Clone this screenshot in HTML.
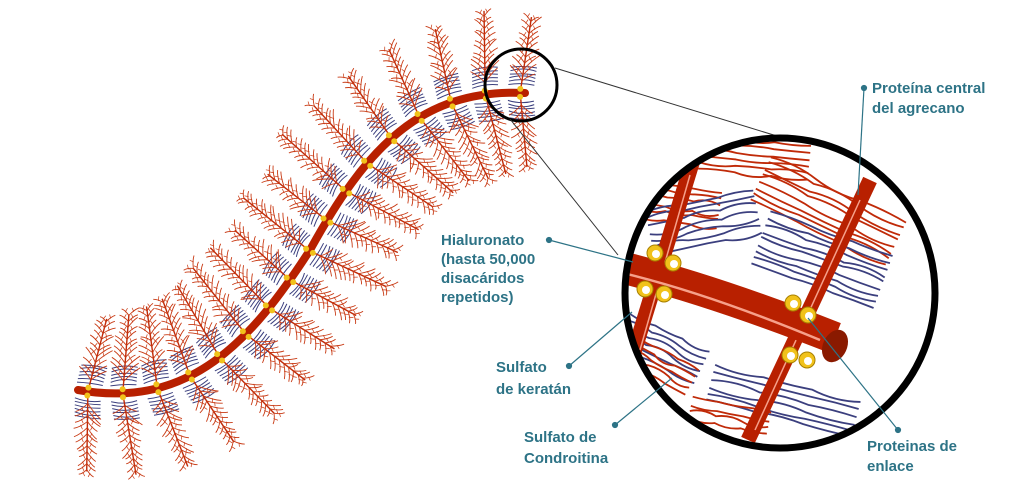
<!DOCTYPE html>
<html><head><meta charset="utf-8"><style>
html,body{margin:0;padding:0;background:#fff;width:1024px;height:493px;overflow:hidden}
svg{display:block}
text{font-family:"Liberation Sans",sans-serif;font-weight:bold;font-size:15px;fill:#2d7386}
</style></head><body>
<svg id="s" width="1024" height="493" viewBox="0 0 1024 493" xmlns="http://www.w3.org/2000/svg">
<defs><clipPath id="cc"><circle cx="780" cy="293" r="155"/></clipPath></defs>
<g id="branches"></g>
<path id="main" d="M78,390 C190,410 252,340 310,250 C365,150 420,88 525,93" fill="none" stroke="#b82000" stroke-width="8" stroke-linecap="round"/>
<g id="dots"></g>
<circle cx="521" cy="85" r="36" fill="none" stroke="#000" stroke-width="3"/>
<line x1="555" y1="68" x2="790" y2="140" stroke="#333" stroke-width="1"/>
<line x1="510" y1="119" x2="618" y2="255" stroke="#333" stroke-width="1"/>
<g clip-path="url(#cc)">
<circle cx="780" cy="293" r="155" fill="#fff"/>
<g id="fib"></g>
<line x1="693" y1="160" x2="630" y2="365" stroke="#b82000" stroke-width="15"/>
<line x1="870" y1="180" x2="748" y2="440" stroke="#b82000" stroke-width="15"/>
<line x1="690" y1="175" x2="640" y2="350" stroke="#f6a08a" stroke-width="1.5"/>
<line x1="860" y1="200" x2="755" y2="430" stroke="#f6a08a" stroke-width="1.5"/>
<path d="M600,262 Q700,285 835,338" fill="none" stroke="#b82000" stroke-width="32"/>
<path d="M610,270 Q700,290 820,340" fill="none" stroke="#f6a08a" stroke-width="2.5"/>
<ellipse cx="835" cy="346" rx="12" ry="17" transform="rotate(25 835 346)" fill="#8a1a00"/>
<g id="link"></g>
</g>
<circle cx="780" cy="293" r="155" fill="none" stroke="#000" stroke-width="7"/>
<g stroke="#2d7386" stroke-width="1.2" fill="#2d7386">
<line x1="864" y1="88" x2="858" y2="195"/><circle cx="864" cy="88" r="2.5"/>
<line x1="549" y1="240" x2="633" y2="262"/><circle cx="549" cy="240" r="2.5"/>
<line x1="569" y1="366" x2="632" y2="312"/><circle cx="569" cy="366" r="2.5"/>
<line x1="615" y1="425" x2="672" y2="378"/><circle cx="615" cy="425" r="2.5"/>
<line x1="898" y1="430" x2="808" y2="318"/><circle cx="898" cy="430" r="2.5"/>
</g>
<text x="872" y="93">Proteína central</text>
<text x="872" y="113">del agrecano</text>
<text x="441" y="245">Hialuronato</text>
<text x="441" y="264">(hasta 50,000</text>
<text x="441" y="283">disacáridos</text>
<text x="441" y="302">repetidos)</text>
<text x="496" y="372">Sulfato</text>
<text x="496" y="394">de keratán</text>
<text x="524" y="442">Sulfato de</text>
<text x="524" y="463">Condroitina</text>
<text x="867" y="451">Proteinas de</text>
<text x="867" y="471">enlace</text>
</svg>
<script>
var NS="http://www.w3.org/2000/svg";
function el(p,t,a){var e=document.createElementNS(NS,t);for(var k in a)e.setAttribute(k,a[k]);p.appendChild(e);return e;}
var seed=7;function rnd(){seed=(seed*9301+49297)%233280;return seed/233280;}
var main=document.getElementById('main'),L=main.getTotalLength();
var br=document.getElementById('branches'),dots=document.getElementById('dots');
for(var s=10;s<L-4;s+=35){
 var p=main.getPointAtLength(s),q=main.getPointAtLength(Math.min(L,s+2)),p0=main.getPointAtLength(Math.max(0,s-2));
 var tx=q.x-p0.x,ty=q.y-p0.y,m=Math.hypot(tx,ty);tx/=m;ty/=m;var nx=-ty,ny=tx;
 [1,-1].forEach(function(sg){
  var len=74+rnd()*12,dx=nx*sg+tx*0.12,dy=ny*sg+ty*0.12,dm=Math.hypot(dx,dy);dx/=dm;dy/=dm;
  for(var b=0;b<6;b++){var o=8+b*3.5,cx=p.x+dx*o,cy=p.y+dy*o,w=(rnd()-0.5)*4;
   var d="M"+(cx-tx*13)+","+(cy-ty*13)+" Q"+(cx+dx*(3+w))+","+(cy+dy*(3+w))+" "+(cx+tx*13)+","+(cy+ty*13);
   el(br,'path',{d:d,fill:'none',stroke:'#3b3f7e','stroke-width':1});}
  var ex=p.x+dx*len,ey=p.y+dy*len;
  el(br,'line',{x1:p.x,y1:p.y,x2:ex,y2:ey,stroke:'#c02a08','stroke-width':1.4});
  for(var t=12;t<len;t+=6){var bx=p.x+dx*t,by=p.y+dy*t,l=14-(t/len)*6;
   [1,-1].forEach(function(g){var a=0.6+rnd()*0.5,ll=l*(0.8+rnd()*0.4),
    mx=bx+dx*ll*a*0.5+tx*g*ll*0.5,my=by+dy*ll*a*0.5+ty*g*ll*0.5,
    fx=bx+dx*ll*a+tx*g*ll,fy=by+dy*ll*a+ty*g*ll;
    el(br,'path',{d:"M"+bx+","+by+" Q"+(mx+dx*2)+","+(my+dy*2)+" "+fx+","+fy,fill:'none',stroke:'#c83a14','stroke-width':0.9});
    el(br,'line',{x1:mx,y1:my,x2:mx+dx*4-tx*g*2,y2:my+dy*4-ty*g*2,stroke:'#c83a14','stroke-width':0.7});});}
 });
 el(dots,'circle',{cx:p.x+nx*4,cy:p.y+ny*4,r:3,fill:'#f1c21b'});
 el(dots,'circle',{cx:p.x-nx*4,cy:p.y-ny*4,r:3,fill:'#f1c21b'});
}
var fib=document.getElementById('fib');
function cluster(x,y,ang,n,col,len){var ca=Math.cos(ang),sa=Math.sin(ang);
 for(var i=0;i<n;i++){var off=(i-n/2)*7+rnd()*3,sx=x-sa*off,sy=y+ca*off,d="M"+sx+","+sy;
  for(var k=1;k<=3;k++){var t=len*k/3,w=(rnd()-0.5)*12,t0=len*(k-0.5)/3;
   d+=" Q"+(sx+ca*t0-sa*w)+","+(sy+sa*t0+ca*w)+" "+(sx+ca*t)+","+(sy+sa*t);}
  el(fib,'path',{d:d,fill:'none',stroke:col,'stroke-width':1.8});}}
cluster(700,150,0.1,7,'#c02a08',110);
cluster(640,200,0.15,6,'#c02a08',80);
cluster(650,235,-0.2,7,'#3b3f7e',110);
cluster(760,180,0.45,8,'#c02a08',150);
cluster(760,240,0.35,9,'#3b3f7e',130);
cluster(620,330,0.45,6,'#3b3f7e',90);
cluster(630,350,0.5,5,'#c02a08',70);
cluster(710,385,0.25,6,'#3b3f7e',150);
cluster(690,410,0.2,4,'#c02a08',80);
var lk=document.getElementById('link');
[[655,253],[673,263],[645,289],[664,294],[793,303],[808,315],[790,355],[807,360]].forEach(function(c){
 el(lk,'circle',{cx:c[0],cy:c[1],r:8,fill:'#f1c21b',stroke:'#a88000','stroke-width':1});
 el(lk,'circle',{cx:c[0]+1,cy:c[1]+1,r:4,fill:'#fff'});});
</script>
</body></html>
